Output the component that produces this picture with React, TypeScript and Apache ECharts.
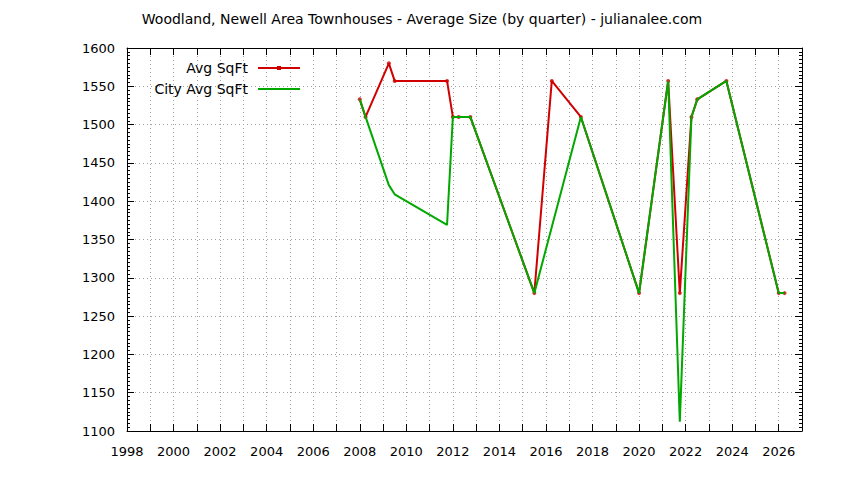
import React, { useEffect, useRef } from "react";
import * as echarts from "echarts";

// quarter positions (decimal year) and average sizes
const avgYears = [2008.0, 2008.25, 2009.25, 2009.5, 2011.75, 2012.0, 2012.25, 2012.75, 2015.5, 2016.25, 2017.5, 2020.0, 2021.25, 2021.75, 2022.25, 2022.5, 2023.75, 2026.0, 2026.25];
const avgSqft = [1533, 1510, 1580, 1557, 1557, 1510, 1510, 1510, 1280, 1557, 1510, 1280, 1557, 1280, 1510, 1533, 1557, 1280, 1280];

const cityYears = [2008.0, 2008.25, 2009.25, 2009.5, 2011.75, 2012.0, 2012.25, 2012.75, 2015.5, 2017.5, 2020.0, 2021.25, 2021.75, 2022.25, 2022.5, 2023.75, 2026.0, 2026.25];
const citySqft = [1533, 1510, 1421, 1409, 1369, 1510, 1510, 1510, 1280, 1510, 1280, 1557, 1112, 1510, 1533, 1557, 1280, 1280];

const titleText = "Woodland, Newell Area Townhouses - Average Size (by quarter) - julianalee.com";
const FONT = "DejaVu Sans";
const RED = "#d00000";
const GREEN = "#00a800";

const App = () => {
    const chartRef = useRef(null);

    useEffect(() => {
        if (!chartRef.current) return;
        const chart = echarts.init(chartRef.current, null, { renderer: "svg" });

        const avgData = avgYears.map((y, i) => [y, avgSqft[i]]);
        const cityData = cityYears.map((y, i) => [y, citySqft[i]]);

        const gridLine = { show: true, lineStyle: { color: "#a0a0a0", type: [1, 3], width: 1 } };
        const axisLine = { show: true, onZero: false, lineStyle: { color: "#000", width: 1 } };
        const tick = { show: true, inside: true, length: 7, lineStyle: { color: "#000" } };

        chart.setOption({
            animation: false,
            backgroundColor: "#fff",
            title: {
                text: titleText,
                left: "center",
                top: 7,
                textStyle: { fontFamily: FONT, fontSize: 14, fontWeight: "normal", color: "#000" },
            },
            legend: {
                orient: "vertical",
                right: 539,
                top: 56,
                align: "right",
                itemWidth: 42,
                itemHeight: 14,
                itemGap: 7,
                selectedMode: false,
                textStyle: { fontFamily: FONT, fontSize: 14, color: "#000", padding: [0, 5, 0, 0] },
                data: [
                    { name: "Avg SqFt", icon: "path://M0,5H42V7H0Z M19,4H23V8H19Z" },
                    { name: "City Avg SqFt", icon: "path://M0,5H42V7H0Z" },
                ],
            },
            grid: { left: 127, right: 42, top: 48, bottom: 49 },
            xAxis: [
                {
                    type: "value",
                    min: 1998,
                    max: 2027,
                    interval: 1,
                    axisLine,
                    axisTick: tick,
                    axisLabel: {
                        margin: 14,
                        color: "#000",
                        fontFamily: FONT,
                        fontSize: 13,
                        showMaxLabel: false,
                        formatter: (v) => (v % 2 === 0 ? String(v) : ""),
                    },
                    splitLine: gridLine,
                },
                {
                    type: "value",
                    position: "top",
                    min: 1998,
                    max: 2027,
                    interval: 1,
                    axisLine,
                    axisTick: tick,
                    axisLabel: { show: false },
                    splitLine: { show: false },
                },
            ],
            yAxis: [
                {
                    type: "value",
                    min: 1100,
                    max: 1600,
                    interval: 50,
                    axisLine,
                    axisTick: tick,
                    minorTick: { show: true, splitNumber: 10, length: 3, lineStyle: { color: "#000" } },
                    axisLabel: {
                        margin: 12,
                        color: "#000",
                        fontFamily: FONT,
                        fontSize: 13,
                        formatter: (v) => String(v),
                    },
                    splitLine: gridLine,
                },
                {
                    type: "value",
                    position: "right",
                    min: 1100,
                    max: 1600,
                    interval: 50,
                    axisLine,
                    axisTick: tick,
                    minorTick: { show: true, splitNumber: 10, length: 3, lineStyle: { color: "#000" } },
                    axisLabel: { show: false },
                    splitLine: { show: false },
                },
            ],
            series: [
                {
                    name: "Avg SqFt",
                    type: "line",
                    data: avgData,
                    showSymbol: false,
                    color: RED,
                    lineStyle: { color: RED, width: 2 },
                },
                {
                    name: "City Avg SqFt",
                    type: "line",
                    data: cityData,
                    showSymbol: false,
                    color: GREEN,
                    lineStyle: { color: GREEN, width: 2 },
                },
                {
                    name: "avg-points",
                    type: "scatter",
                    data: avgData,
                    symbol: "circle",
                    symbolSize: 4,
                    itemStyle: { color: RED, opacity: 0.8 },
                },
            ],
        });

        return () => chart.dispose();
    }, []);

    return (
        <div
            ref={chartRef}
            style={{ position: "fixed", left: 0, top: 0, width: "844px", height: "480px" }}
        />
    );
};

export default App;
